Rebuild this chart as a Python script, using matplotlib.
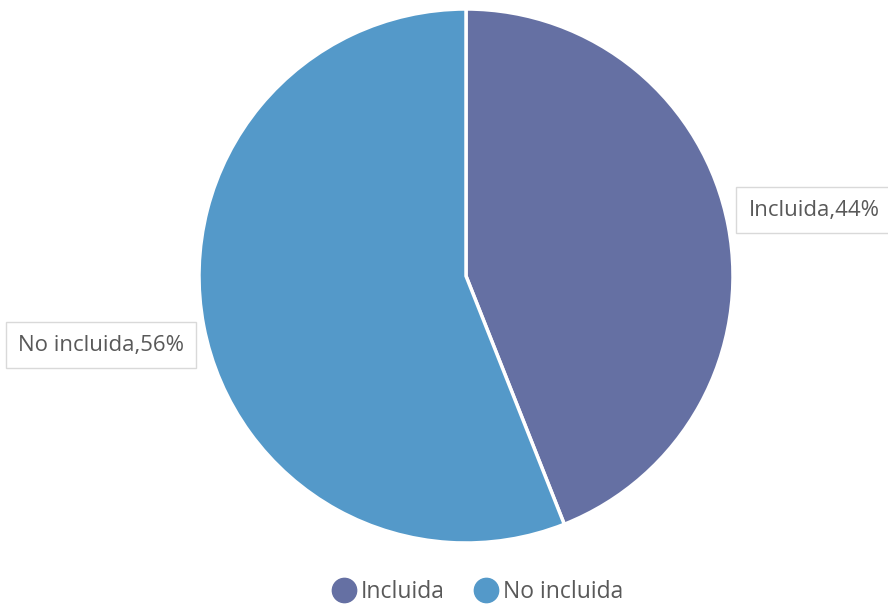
import matplotlib.pyplot as plt
from matplotlib.lines import Line2D

labels = ["Incluida", "No incluida"]
values = [44, 56]
colors = ["#6570a3", "#5499c9"]

W, H = 888, 607
fig = plt.figure(figsize=(W / 100, H / 100), dpi=100)

# pie centre / radius in pixels
cx, cy, r = 466, 276, 267
ax = fig.add_axes([(cx - r) / W, (H - cy - r) / H, 2 * r / W, 2 * r / H])
ax.pie(values, colors=colors, startangle=90, counterclock=False,
       wedgeprops={"edgecolor": "white", "linewidth": 2.5})
ax.set_xlim(-1, 1)
ax.set_ylim(-1, 1)
ax.set_aspect("auto")
ax.axis("off")

fam = ["Open Sans", "DejaVu Sans"]
box = dict(boxstyle="square,pad=0.55", facecolor="white", edgecolor="#d9d9d9", linewidth=1)
txt_kw = dict(fontsize=16, color="#595959", family=fam,
              ha="center", va="center", bbox=box)
fig.text(814 / W, 1 - 210 / H, f"{labels[0]},{values[0]}%", **txt_kw)
fig.text(101 / W, 1 - 345 / H, f"{labels[1]},{values[1]}%", **txt_kw)

handles = [Line2D([], [], marker="o", linestyle="", markersize=17.5,
                  markerfacecolor=c, markeredgecolor=c) for c in colors]
leg = fig.legend(handles, labels, loc="center", bbox_to_anchor=(478 / W, 1 - 592 / H),
                 ncol=2, frameon=False, handletextpad=0.25, columnspacing=1.3,
                 handlelength=1.0, prop={"family": fam, "size": 16.5})
for t in leg.get_texts():
    t.set_color("#595959")

fig.savefig("out.png", dpi=100, facecolor="white")
